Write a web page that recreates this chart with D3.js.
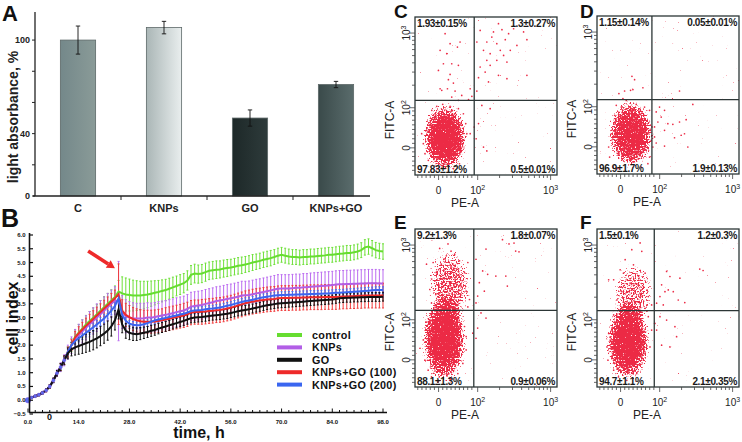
<!DOCTYPE html>
<html><head><meta charset="utf-8">
<script src="https://cdn.jsdelivr.net/npm/d3@7"></script>
<style>
body{margin:0;background:#fff}
svg{display:block;font-family:'Liberation Sans',Arial,sans-serif}
</style>
</head><body>
<svg id="c" width="742" height="442"></svg>
<script>
// ---------------- DATA ----------------
// Panel A
const barCats = ["C","KNPs","GO","KNPs+GO"];
const barValues = [100,108,50,71.5];
const barErrors = [9,4,5.2,2];
const barTicks = [0,20,40,60,80,100];
const barTickLabels = [0,40,100];

// Panel B
const hours = [0,1,2,3,4,5,6,7,8,9,10,11,12,13,14,15,16,17,18,19,20,21,22,23,24,25,26,27,28,29,30,31,32,33,34,35,36,37,38,39,40,41,42,43,44,45,46,47,48,49,50,51,52,53,54,55,56,57,58,59,60,61,62,63,64,65,66,67,68,69,70,71,72,73,74,75,76,77,78,79,80,81,82,83,84,85,86,87,88,89,90,91,92,93,94,95,96,97,98];
const seriesNames = ["control","KNPs","GO","KNPs+GO (100)","KNPs+GO (200)"];
const controlVals = [0,0.1,0.15,0.2,0.27,0.36,0.5,0.72,0.98,1.2,
1.45,1.75,2.0,2.3,2.45,2.6,2.75,2.88,3.0,3.12,
3.25,3.38,3.5,3.62,3.75,3.95,3.88,3.84,3.82,3.8,
3.8,3.8,3.82,3.84,3.87,3.9,3.93,3.97,4.0,4.05,
4.1,4.15,4.2,4.25,4.35,4.55,4.6,4.58,4.6,4.65,
4.7,4.72,4.74,4.75,4.78,4.8,4.82,4.85,4.88,4.9,
4.93,4.96,5.0,5.03,5.06,5.1,5.13,5.16,5.2,5.25,
5.28,5.25,5.22,5.2,5.2,5.18,5.2,5.2,5.22,5.22,
5.24,5.25,5.26,5.28,5.28,5.3,5.32,5.33,5.35,5.35,
5.37,5.4,5.45,5.55,5.58,5.52,5.45,5.42,5.4];
const knpsVals = [0,0.1,0.15,0.2,0.27,0.36,0.5,0.72,0.98,1.2,
1.45,1.75,2.0,2.22,2.36,2.5,2.63,2.76,2.88,3.0,
3.12,3.25,3.38,3.5,3.62,3.6,3.2,3.05,3.0,2.98,
2.97,2.97,2.98,3.0,3.0,3.02,3.05,3.08,3.1,3.13,
3.16,3.2,3.23,3.26,3.32,3.4,3.42,3.44,3.46,3.5,
3.53,3.56,3.6,3.62,3.65,3.68,3.7,3.73,3.76,3.8,
3.81,3.82,3.85,3.88,3.9,3.93,3.96,3.99,4.02,4.05,
4.06,4.06,4.06,4.07,4.08,4.08,4.1,4.1,4.12,4.13,
4.14,4.15,4.16,4.17,4.18,4.2,4.21,4.21,4.22,4.22,
4.23,4.23,4.24,4.24,4.25,4.25,4.25,4.24,4.24];
const goVals = [0,0.1,0.15,0.2,0.27,0.36,0.5,0.72,0.98,1.2,
1.45,1.7,1.85,1.92,1.97,2.02,2.07,2.12,2.18,2.25,
2.33,2.42,2.53,2.68,2.9,3.3,2.75,2.52,2.45,2.41,
2.4,2.42,2.45,2.48,2.52,2.55,2.6,2.64,2.68,2.72,
2.76,2.8,2.84,2.88,2.93,2.98,3.0,3.01,3.02,3.04,
3.06,3.08,3.09,3.1,3.12,3.14,3.17,3.2,3.23,3.26,
3.28,3.3,3.33,3.36,3.39,3.42,3.45,3.47,3.49,3.51,
3.52,3.53,3.54,3.55,3.56,3.57,3.58,3.59,3.6,3.61,
3.62,3.63,3.64,3.65,3.66,3.68,3.7,3.71,3.72,3.72,
3.73,3.73,3.74,3.74,3.75,3.75,3.75,3.75,3.76];
const kg100Vals = [0,0.1,0.15,0.2,0.27,0.36,0.5,0.72,0.98,1.2,
1.45,1.75,2.0,2.28,2.43,2.57,2.7,2.82,2.95,3.08,
3.2,3.33,3.45,3.58,3.7,3.85,3.25,3.1,3.02,2.95,
2.9,2.87,2.85,2.85,2.85,2.86,2.88,2.9,2.93,2.96,
2.99,3.02,3.05,3.08,3.12,3.18,3.2,3.2,3.21,3.22,
3.24,3.25,3.27,3.28,3.3,3.33,3.36,3.4,3.44,3.48,
3.52,3.55,3.58,3.6,3.62,3.64,3.66,3.67,3.68,3.7,
3.71,3.71,3.71,3.72,3.72,3.72,3.73,3.73,3.74,3.74,
3.74,3.74,3.75,3.75,3.75,3.75,3.76,3.77,3.77,3.78,
3.78,3.79,3.79,3.8,3.8,3.8,3.8,3.8,3.8];
const kg200Vals = [0,0.1,0.15,0.2,0.27,0.36,0.5,0.72,0.98,1.2,
1.45,1.75,2.0,2.15,2.25,2.35,2.45,2.55,2.65,2.75,
2.86,2.97,3.1,3.25,3.42,3.7,3.1,2.88,2.78,2.74,
2.72,2.73,2.76,2.8,2.85,2.9,2.93,2.96,2.99,3.02,
3.05,3.08,3.11,3.14,3.18,3.24,3.26,3.27,3.28,3.3,
3.32,3.33,3.35,3.37,3.4,3.43,3.46,3.5,3.53,3.57,
3.6,3.62,3.65,3.68,3.71,3.74,3.76,3.78,3.8,3.81,
3.82,3.82,3.83,3.83,3.84,3.84,3.85,3.85,3.86,3.86,
3.87,3.87,3.88,3.88,3.89,3.9,3.9,3.91,3.92,3.93,
3.94,3.95,3.96,3.97,3.98,3.99,4.0,4.0,4.0];
const controlErr = [0.02,0.03,0.03,0.04,0.04,0.05,0.06,0.08,0.1,0.13,
0.16,0.2,0.24,0.27,0.3,0.32,0.33,0.34,0.35,0.36,
0.37,0.38,0.38,0.39,0.4,0.4,0.6,0.6,0.58,0.56,
0.54,0.52,0.5,0.48,0.46,0.44,0.42,0.4,0.39,0.38,
0.37,0.36,0.36,0.35,0.35,0.34,0.34,0.33,0.33,0.33,
0.32,0.32,0.32,0.31,0.31,0.31,0.3,0.3,0.3,0.3,
0.29,0.29,0.29,0.28,0.28,0.28,0.28,0.28,0.27,0.27,
0.27,0.27,0.27,0.27,0.27,0.27,0.27,0.27,0.27,0.27,
0.27,0.27,0.27,0.27,0.27,0.27,0.27,0.27,0.27,0.27,
0.27,0.27,0.27,0.28,0.28,0.28,0.28,0.28,0.28];
const knpsErr = [0.02,0.03,0.03,0.04,0.05,0.06,0.07,0.09,0.12,0.16,
0.2,0.25,0.3,0.35,0.4,0.42,0.44,0.46,0.48,0.5,
0.5,0.5,0.5,0.5,0.5,1.44,0.6,0.6,0.58,0.56,
0.55,0.55,0.54,0.54,0.53,0.53,0.53,0.52,0.52,0.52,
0.52,0.52,0.52,0.52,0.52,0.52,0.52,0.52,0.52,0.52,
0.52,0.52,0.52,0.52,0.52,0.52,0.52,0.52,0.52,0.52,
0.51,0.51,0.51,0.51,0.51,0.51,0.51,0.51,0.51,0.51,
0.5,0.5,0.5,0.5,0.5,0.5,0.5,0.5,0.5,0.5,
0.5,0.5,0.5,0.5,0.5,0.5,0.5,0.5,0.5,0.5,
0.5,0.5,0.5,0.5,0.5,0.5,0.5,0.5,0.5];
const goErr = [0.02,0.03,0.03,0.04,0.04,0.05,0.06,0.08,0.1,0.13,
0.16,0.2,0.24,0.28,0.3,0.32,0.33,0.34,0.35,0.35,
0.35,0.35,0.35,0.35,0.35,0.35,0.3,0.27,0.25,0.24,
0.23,0.22,0.21,0.2,0.2,0.19,0.19,0.18,0.18,0.18,
0.17,0.17,0.17,0.17,0.17,0.17,0.17,0.17,0.17,0.17,
0.17,0.17,0.17,0.17,0.17,0.17,0.17,0.17,0.17,0.17,
0.16,0.16,0.16,0.16,0.16,0.16,0.16,0.16,0.16,0.16,
0.16,0.16,0.16,0.16,0.16,0.16,0.16,0.16,0.16,0.16,
0.16,0.16,0.16,0.16,0.16,0.16,0.16,0.16,0.16,0.16,
0.16,0.16,0.16,0.16,0.16,0.16,0.16,0.16,0.16];
const kg100Err = [0.02,0.03,0.03,0.04,0.04,0.05,0.06,0.07,0.09,0.12,
0.15,0.18,0.2,0.22,0.24,0.26,0.28,0.3,0.3,0.3,
0.3,0.3,0.3,0.3,0.3,1.1,0.4,0.42,0.42,0.42,
0.42,0.42,0.42,0.42,0.42,0.42,0.42,0.42,0.43,0.43,
0.43,0.43,0.43,0.44,0.44,0.44,0.44,0.44,0.45,0.45,
0.45,0.45,0.45,0.45,0.45,0.45,0.45,0.45,0.45,0.45,
0.45,0.45,0.45,0.45,0.45,0.45,0.45,0.45,0.45,0.45,
0.45,0.45,0.45,0.45,0.45,0.45,0.45,0.45,0.45,0.45,
0.45,0.45,0.45,0.45,0.45,0.45,0.45,0.45,0.45,0.45,
0.45,0.45,0.45,0.45,0.45,0.45,0.45,0.45,0.45];
const kg200Err = [0.02,0.02,0.03,0.03,0.04,0.04,0.05,0.06,0.07,0.08,
0.09,0.1,0.11,0.12,0.13,0.14,0.15,0.15,0.15,0.15,
0.15,0.15,0.15,0.15,0.15,0.2,0.14,0.13,0.12,0.12,
0.12,0.12,0.12,0.12,0.12,0.12,0.12,0.12,0.12,0.12,
0.12,0.12,0.12,0.12,0.12,0.12,0.12,0.12,0.12,0.12,
0.12,0.12,0.12,0.12,0.12,0.12,0.12,0.12,0.12,0.12,
0.12,0.12,0.12,0.12,0.12,0.12,0.12,0.12,0.12,0.12,
0.12,0.12,0.12,0.12,0.12,0.12,0.12,0.12,0.12,0.12,
0.12,0.12,0.12,0.12,0.12,0.12,0.12,0.12,0.12,0.12,
0.12,0.12,0.12,0.12,0.12,0.12,0.12,0.12,0.12];
const bYTicks = [-0.5,0,0.5,1,1.5,2,2.5,3,3.5,4,4.5,5,5.5,6];
const bXTicks = [0,14,28,42,56,70,84,98];
const arrowFrom = [16.6,5.42];
const arrowTo = [24.0,4.79];

// Flow panels C-F (display channels 0-1024)
const flowTickLabelsX = [[170,"0",""],[452,"10","2"],[978,"10","3"]];
const flowTickLabelsY = [[176,"0",""],[436,"10","2"],[920,"10","3"]];
const flowMinorX = [20,50,80,110,140,170,200,230,260,290,320,350,380,410,452,610,703,769,820,861,897,927,954,978];
const flowMinorY = [30,60,90,120,150,176,205,235,265,295,325,355,385,415,436,582,667,727,774,813,845,873,898,920];

const quadC = ["1.93±0.15%","1.3±0.27%","97.83±1.2%","0.5±0.01%"];
const quadD = ["1.15±0.14%","0.05±0.01%","96.9±1.7%","1.9±0.13%"];
const quadE = ["9.2±1.3%","1.8±0.07%","88.1±1.3%","0.9±0.06%"];
const quadF = ["1.5±0.1%","1.2±0.3%","94.7±1.1%","2.1±0.35%"];
const gateC = [427,484], gateD = [396,482], gateE = [424,497], gateF = [413,495];

const coreC = [{x0:50,x1:385,y0:15,y1:470,w:1}];
const coreD = [{x0:75,x1:415,y0:35,y1:485,w:0.95}];
const coreE = [{x0:45,x1:375,y0:20,y1:600,w:1},{x0:90,x1:410,y0:420,y1:900,w:0.6}];
const coreF = [{x0:60,x1:385,y0:30,y1:560,w:1},{x0:110,x1:410,y0:400,y1:810,w:0.55}];

const eventsC = [[602,981],[711,948],[783,927],[470,937],[566,927],[627,942],[675,916],[554,894],[651,877],[446,862],[518,862],[590,851],[735,840],[807,877],[494,808],[615,808],[687,808],[542,786],[639,775],[518,743],[590,743],[663,732],[470,700],[542,711],[506,667],[602,646],[663,624],[807,646],[458,631],[530,603],[398,559],[446,544],[410,510],[386,488],
[217,916],[253,851],[181,808],[229,786],[306,829],[325,862],[265,721],[313,711],[205,721],[169,678],[253,652],[241,618],[277,596],[193,549],[234,559],[289,544],[337,516],[181,559],[265,505],[313,484],
[482,451],[542,430],[458,333],[494,181],[518,156],[441,235],[398,268],[427,311],
[60,203],[84,289],[121,419],[157,445],[200,458],[253,445],[313,430],[349,397],[366,333],[374,268],[337,160],[321,73],[277,41],[157,41],[96,95],[72,138],[133,387],[354,225],[48,268]];
const eventsD = [[252,633],[271,611],[158,521],[199,538],[242,542],[259,547],[331,559],[187,488],[211,477],
[595,538],
[451,434],[487,413],[427,402],[463,369],[511,326],[547,322],[595,337],[643,352],[439,337],[415,305],[487,283],[607,251],[631,261],[559,235],[415,240],[487,181],[655,175],[691,451],[427,201],[403,175],
[91,110],[115,45],[151,35],[319,45],[379,110],[391,218],[379,413],[343,434],[175,434],[127,380],[103,261],[84,175],[139,445],[283,451],[396,305],[367,67]];
const eventsE = [[238,927],[178,898],[226,850],[286,861],[131,807],[190,796],[262,785],[321,818],[381,807],[83,796],[155,741],[214,730],[298,719],[357,741],[143,687],[250,676],[333,654],[369,621],[107,632],[178,610],[286,600],[393,567],[119,545],[226,556],[309,534],[381,519],
[150,600],[200,650],[260,640],[230,700],[170,760],[280,770],[120,700],[340,690],[210,830],[260,880],
[631,955],[678,927],[714,933],[750,876],[726,881],[512,894],[440,828],[488,752],[524,730],[583,719],[655,719],[666,654],[464,676],[500,621],[452,589],[440,545],[476,480],[512,447],
[452,382],[440,316],[417,349],
[36,251],[60,305],[71,174],[95,109],[119,65],[167,33],[250,44],[309,87],[345,153],[369,240],[369,327],[357,392],[107,436],[83,371]];
const eventsF = [[311,934],[251,890],[203,825],[323,879],[167,760],[120,695],[84,695],[191,738],[263,792],[299,716],[347,738],[239,673],[335,651],[179,618],[275,608],[370,586],[143,564],[215,553],[311,543],[394,532],[179,510],[263,516],[347,510],
[741,764],[765,755],[502,749],[526,716],[598,705],[466,662],[514,629],[550,618],[490,618],[586,564],[633,547],[454,586],[430,543],[478,532],
[454,456],[502,434],[562,391],[574,326],[466,271],[526,260],[430,369],[418,412],
[72,260],[84,347],[79,174],[120,109],[155,65],[215,43],[287,87],[335,174],[382,260],[394,369],[370,456],[120,467]];

// ---------------- DRAW ----------------
const svg = d3.select("#c");
const defs = svg.append("defs");
const RED = "#ec2a45";

// ===== Panel A =====
(function(){
  const x = d3.scaleBand().domain(barCats).range([35,379]).paddingInner(0.59).paddingOuter(0.295);
  const y = d3.scaleLinear().domain([0,118]).range([196,12]);
  const g = svg.append("g");
  const grads = [["#74888a","#8a9b98"],["#aab6b6","#e9eeee"],["#1d2828","#2e3b3b"],["#3a4a4a","#5a6c6c"]];
  barCats.forEach((c,i)=>{
    const lg = defs.append("linearGradient").attr("id","bg"+i).attr("x1","0").attr("x2","1").attr("y1","0").attr("y2","0");
    lg.append("stop").attr("offset","0").attr("stop-color",grads[i][0]);
    lg.append("stop").attr("offset","1").attr("stop-color",grads[i][1]);
  });
  g.selectAll("rect.bar").data(barValues).join("rect")
    .attr("x",(d,i)=>x(barCats[i])).attr("width",x.bandwidth())
    .attr("y",d=>y(d)).attr("height",d=>y(0)-y(d))
    .attr("fill",(d,i)=>`url(#bg${i})`).attr("stroke","#5d6868").attr("stroke-width",0.8);
  barValues.forEach((v,i)=>{
    const cx = x(barCats[i])+x.bandwidth()/2;
    g.append("line").attr("x1",cx).attr("x2",cx).attr("y1",y(v+barErrors[i])).attr("y2",y(v-barErrors[i])).attr("stroke","#111").attr("stroke-width",0.9);
    [v+barErrors[i],v-barErrors[i]].forEach(e=>g.append("line").attr("x1",cx-2.2).attr("x2",cx+2.2).attr("y1",y(e)).attr("y2",y(e)).attr("stroke","#111").attr("stroke-width",0.9));
  });
  g.append("line").attr("x1",35).attr("x2",35).attr("y1",y(118)).attr("y2",y(0)).attr("stroke","#222").attr("stroke-width",1.3);
  g.append("line").attr("x1",33).attr("x2",370).attr("y1",y(0)).attr("y2",y(0)).attr("stroke","#222").attr("stroke-width",1.3);
  barTicks.forEach(t=>{
    g.append("line").attr("x1",32).attr("x2",35).attr("y1",y(t)).attr("y2",y(t)).attr("stroke","#222").attr("stroke-width",1);
  });
  barTickLabels.forEach(t=>{
    g.append("text").attr("x",30).attr("y",y(t)+3.2).attr("text-anchor","end").attr("font-size",9).attr("font-weight","bold").attr("fill","#222").text(t);
  });
  for(let i=1;i<barCats.length;i++){
    const xx = x(barCats[i]) - x.step()*x.paddingInner()/2;
    g.append("line").attr("x1",xx).attr("x2",xx).attr("y1",y(0)).attr("y2",y(0)+4).attr("stroke","#222").attr("stroke-width",1);
  }
  barCats.forEach(c=>{
    g.append("text").attr("x",x(c)+x.bandwidth()/2).attr("y",212).attr("text-anchor","middle").attr("font-size",11).attr("font-weight","bold").attr("fill","#222").text(c);
  });
  g.append("text").attr("transform","translate(18,117) rotate(-90)").attr("text-anchor","middle").attr("font-size",14).attr("font-weight","bold").attr("fill","#222").text("light absorbance, %");
  g.append("text").attr("x",2).attr("y",20.5).attr("font-size",22).attr("font-weight","bold").attr("fill","#111").text("A");
})();

// ===== Panel B =====
(function(){
  const x = d3.scaleLinear().domain([0,98]).range([28,383]);
  const y = d3.scaleLinear().domain([-0.5,6]).range([414,235]);
  const g = svg.append("g");
  const series = [
    {name:seriesNames[0], v:controlVals, e:controlErr, c:"#66dd30", ec:"#6fe03a"},
    {name:seriesNames[1], v:knpsVals, e:knpsErr, c:"#b25ee6", ec:"#bb6cf0"},
    {name:seriesNames[3], v:kg100Vals, e:kg100Err, c:"#ee2a2a", ec:"#f03c3c"},
    {name:seriesNames[4], v:kg200Vals, e:kg200Err, c:"#3a66f0", ec:"#4a72f0"},
    {name:seriesNames[2], v:goVals, e:goErr, c:"#111111", ec:"#111111"}
  ];
  series.forEach(s=>{
    const eg = g.append("g").attr("stroke",s.ec).attr("stroke-width",1);
    hours.forEach((t,i)=>{
      const lo = y(s.v[i]-s.e[i]), hi = y(s.v[i]+s.e[i]);
      eg.append("line").attr("x1",x(t)).attr("x2",x(t)).attr("y1",lo).attr("y2",hi);
      eg.append("line").attr("x1",x(t)-1).attr("x2",x(t)+1).attr("y1",lo).attr("y2",lo);
      eg.append("line").attr("x1",x(t)-1).attr("x2",x(t)+1).attr("y1",hi).attr("y2",hi);
    });
  });
  const line = d3.line().x((d,i)=>x(hours[i])).y(d=>y(d));
  series.forEach(s=>{
    g.append("path").attr("d",line(s.v)).attr("fill","none").attr("stroke",s.c).attr("stroke-width",2);
  });
  hours.forEach((t,i)=>{ if(t<=10) g.append("circle").attr("cx",x(t)).attr("cy",y(kg200Vals[i])).attr("r",t===0?2.8:1.6).attr("fill","#5a6cf0").attr("stroke","#8a5ce6").attr("stroke-width",0.5); });
  g.append("line").attr("x1",29.5).attr("x2",29.5).attr("y1",233).attr("y2",413).attr("stroke","#111").attr("stroke-width",1.6);
  g.append("line").attr("x1",29).attr("x2",387).attr("y1",412.5).attr("y2",412.5).attr("stroke","#111").attr("stroke-width",1.4);
  bYTicks.forEach(t=>{
    g.append("line").attr("x1",29.5).attr("x2",33).attr("y1",y(t)).attr("y2",y(t)).attr("stroke","#111").attr("stroke-width",1.2);
    g.append("text").attr("x",25.5).attr("y",y(t)+2).attr("text-anchor","end").attr("font-size",6).attr("font-weight","bold").attr("fill","#111").text(d3.format(".1f")(t));
  });
  for(let t=0;t<=98;t+=2){
    const major = t%14===0;
    g.append("line").attr("x1",x(t)).attr("x2",x(t)).attr("y1",412.5).attr("y2",412.5-(major?4:2.5)).attr("stroke","#111").attr("stroke-width",1);
  }
  bXTicks.forEach(t=>{
    g.append("text").attr("x",x(t)).attr("y",424).attr("text-anchor","middle").attr("font-size",6).attr("font-weight","bold").attr("fill","#111").text(d3.format(".1f")(t));
  });
  g.append("text").attr("x",49.5).attr("y",420).attr("text-anchor","middle").attr("font-size",9).attr("font-weight","bold").attr("fill","#111").text("0");
  const ax0 = x(arrowFrom[0]), ay0 = y(arrowFrom[1]), ax1 = x(arrowTo[0]), ay1 = y(arrowTo[1]);
  const ang = Math.atan2(ay1-ay0, ax1-ax0);
  const hl = 8, hw = 4.5;
  const bx = ax1 - hl*Math.cos(ang), by = ay1 - hl*Math.sin(ang);
  g.append("line").attr("x1",ax0).attr("y1",ay0).attr("x2",bx).attr("y2",by).attr("stroke","#ee2a2a").attr("stroke-width",3.6);
  g.append("polygon").attr("points",[[ax1,ay1],[bx+hw*Math.sin(ang),by-hw*Math.cos(ang)],[bx-hw*Math.sin(ang),by+hw*Math.cos(ang)]].map(p=>p.join(",")).join(" ")).attr("fill","#ee2a2a");
  const legColors = ["#66dd30","#b25ee6","#111111","#ee2a2a","#3a66f0"];
  seriesNames.forEach((n,i)=>{
    const yy = 335 + i*12.4;
    g.append("line").attr("x1",277).attr("x2",302).attr("y1",yy).attr("y2",yy).attr("stroke",legColors[i]).attr("stroke-width",4);
    g.append("text").attr("x",312).attr("y",yy+4).attr("font-size",10.8).attr("letter-spacing",0.35).attr("font-weight","bold").attr("fill","#111").text(n);
  });
  g.append("text").attr("transform","translate(18,318) rotate(-90)").attr("text-anchor","middle").attr("font-size",16).attr("font-weight","bold").attr("fill","#111").text("cell index");
  g.append("text").attr("x",199).attr("y",438).attr("text-anchor","middle").attr("font-size",16).attr("font-weight","bold").attr("fill","#111").text("time, h");
  g.append("text").attr("x",1).attr("y",227).attr("font-size",25).attr("font-weight","bold").attr("fill","#111").text("B");
})();

// ===== Flow panels =====
const grad = defs.append("radialGradient").attr("id","blobGrad");
[[0,1],[0.5,0.92],[0.78,0.6],[1,0.08]].forEach(s=>grad.append("stop").attr("offset",s[0]).attr("stop-color","#e82040").attr("stop-opacity",s[1]));
const filt = defs.append("filter").attr("id","grain").attr("filterUnits","userSpaceOnUse").attr("x",0).attr("y",0).attr("width",742).attr("height",442).attr("color-interpolation-filters","sRGB");
filt.append("feTurbulence").attr("type","fractalNoise").attr("baseFrequency",0.6).attr("numOctaves",2).attr("seed",5).attr("result","noise");
filt.append("feColorMatrix").attr("in","noise").attr("type","matrix").attr("values","0 0 0 0 0  0 0 0 0 0  0 0 0 0 0  1 0 0 0 0").attr("result","na");
filt.append("feComposite").attr("in","SourceAlpha").attr("in2","na").attr("operator","arithmetic").attr("k1",0).attr("k2",1).attr("k3",1.6).attr("k4",-1.25).attr("result","sum");
const ct = filt.append("feComponentTransfer").attr("in","sum").attr("result","thr");
ct.append("feFuncA").attr("type","linear").attr("slope",5).attr("intercept",0);
filt.append("feFlood").attr("flood-color",RED).attr("result","col");
filt.append("feComposite").attr("in","col").attr("in2","thr").attr("operator","in");

const flowPanels = [
  {letter:"C", quad:quadC, gate:gateC, core:coreC, events:eventsC, left:415, top:17, lx:394, ly:17.5},
  {letter:"D", quad:quadD, gate:gateD, core:coreD, events:eventsD, left:597, top:16, lx:580, ly:17.5},
  {letter:"E", quad:quadE, gate:gateE, core:coreE, events:eventsE, left:415, top:229, lx:394, ly:229},
  {letter:"F", quad:quadF, gate:gateF, core:coreF, events:eventsF, left:597, top:229, lx:580, ly:229}
];
const W = 142, H = 158;
flowPanels.forEach((p,pi)=>{
  const g = svg.append("g");
  const x = d3.scaleLinear().domain([0,1024]).range([p.left,p.left+W]);
  const y = d3.scaleLinear().domain([0,1024]).range([p.top+H,p.top]);
  defs.append("clipPath").attr("id","clip"+pi).append("rect").attr("x",p.left).attr("y",p.top).attr("width",W).attr("height",H);
  const bg = g.append("g").attr("clip-path",`url(#clip${pi})`).append("g").attr("filter","url(#grain)");
  bg.selectAll("ellipse").data(p.core).join("ellipse")
    .attr("cx",d=>(x(d.x0)+x(d.x1))/2).attr("cy",d=>(y(d.y0)+y(d.y1))/2)
    .attr("rx",d=>(x(d.x1)-x(d.x0))/2).attr("ry",d=>(y(d.y0)-y(d.y1))/2)
    .attr("fill","url(#blobGrad)").attr("fill-opacity",d=>d.w);
  g.selectAll("circle.ev").data(p.events).join("circle").attr("class","ev")
    .attr("cx",d=>x(d[0])).attr("cy",d=>y(d[1])).attr("r",0.85).attr("fill",RED);
  g.append("rect").attr("x",p.left).attr("y",p.top).attr("width",W).attr("height",H).attr("fill","none").attr("stroke","#2c3636").attr("stroke-width",1.3);
  g.append("line").attr("x1",x(p.gate[0])).attr("x2",x(p.gate[0])).attr("y1",p.top).attr("y2",p.top+H).attr("stroke","#2c3636").attr("stroke-width",1.3);
  g.append("line").attr("x1",p.left).attr("x2",p.left+W).attr("y1",y(p.gate[1])).attr("y2",y(p.gate[1])).attr("stroke","#2c3636").attr("stroke-width",1.3);
  flowMinorX.forEach(t=>{
    const maj = flowTickLabelsX.some(l=>l[0]===t);
    g.append("line").attr("x1",x(t)).attr("x2",x(t)).attr("y1",p.top+H).attr("y2",p.top+H+(maj?5:3)).attr("stroke","#444").attr("stroke-width",0.8);
  });
  flowMinorY.forEach(t=>{
    const maj = flowTickLabelsY.some(l=>l[0]===t);
    g.append("line").attr("x1",p.left).attr("x2",p.left-(maj?5:3)).attr("y1",y(t)).attr("y2",y(t)).attr("stroke","#444").attr("stroke-width",0.8);
  });
  flowTickLabelsX.forEach(l=>{
    const tx = g.append("text").attr("x",x(l[0])).attr("y",p.top+H+19).attr("text-anchor","middle").attr("font-size",10).attr("fill","#222");
    tx.append("tspan").text(l[1]);
    if(l[2]) tx.append("tspan").attr("dy",-4).attr("font-size",7).text(l[2]);
  });
  flowTickLabelsY.forEach(l=>{
    const tx = g.append("text").attr("transform",`translate(${p.left-5},${y(l[0])}) rotate(-90)`).attr("text-anchor","middle").attr("font-size",10).attr("fill","#222");
    tx.append("tspan").text(l[1]);
    if(l[2]) tx.append("tspan").attr("dy",-4).attr("font-size",7).text(l[2]);
  });
  g.append("text").attr("x",p.left+50).attr("y",p.top+H+32).attr("text-anchor","middle").attr("font-size",12).attr("fill","#222").text("PE-A");
  g.append("text").attr("transform",`translate(${p.left-21},${p.top+103}) rotate(-90)`).attr("text-anchor","middle").attr("font-size",12).attr("fill","#222").text("FITC-A");
  const qs = {"font-size":10,"font-weight":"bold","letter-spacing":-0.35,"fill":"#1a1a1a"};
  const addQ = (txt,xx,yy,anchor)=>{ const t=g.append("text").attr("x",xx).attr("y",yy).attr("text-anchor",anchor).text(txt); Object.entries(qs).forEach(([k,v])=>t.attr(k,v)); };
  addQ(p.quad[0], p.left+2, p.top+10, "start");
  addQ(p.quad[1], p.left+W-2, p.top+10, "end");
  addQ(p.quad[2], p.left+2, p.top+H-2, "start");
  addQ(p.quad[3], p.left+W-2, p.top+H-2, "end");
  g.append("text").attr("x",p.lx).attr("y",p.ly).attr("font-size",19).attr("font-weight","bold").attr("fill","#111").text(p.letter);
});
</script>
</body></html>
